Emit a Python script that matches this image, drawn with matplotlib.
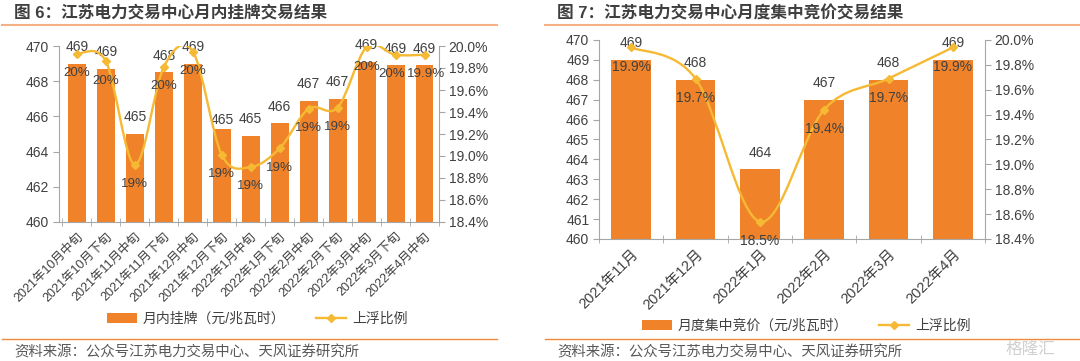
import matplotlib
matplotlib.use('Agg')
import matplotlib.pyplot as plt
from matplotlib.path import Path
from matplotlib.patches import PathPatch, Patch
from matplotlib.lines import Line2D
import matplotlib.ticker as mticker

plt.rcParams['font.family'] = ['Liberation Sans', 'Noto Sans CJK SC', 'DejaVu Sans']

# fig 6 data
cats6 = ['2021年10月中旬', '2021年10月下旬', '2021年11月中旬', '2021年11月下旬', '2021年12月中旬',
         '2021年12月下旬', '2022年1月中旬', '2022年1月下旬', '2022年2月中旬', '2022年2月下旬',
         '2022年3月中旬', '2022年3月下旬', '2022年4月中旬']
price6 = [469.0, 468.7, 465.0, 468.5, 469.0, 465.3, 464.9, 465.6, 466.9, 467.0, 469.1, 468.9, 468.9]
price6_lbl = ['469', '469', '465', '468', '469', '465', '465', '466', '467', '467', '469', '469', '469']
ratio6 = [19.93, 19.86, 18.92, 19.81, 19.95, 19.01, 18.90, 19.07, 19.43, 19.44, 19.99, 19.92, 19.92]
ratio6_lbl = ['20%', '20%', '19%', '20%', '20%', '19%', '19%', '19%', '19%', '19%', '20%', '20%', '19.9%']

# fig 7 data
cats7 = ['2021年11月', '2021年12月', '2022年1月', '2022年2月', '2022年3月', '2022年4月']
price7 = [469.0, 468.0, 463.5, 467.0, 468.0, 469.0]
price7_lbl = ['469', '468', '464', '467', '468', '469']
ratio7 = [19.94, 19.69, 18.54, 19.44, 19.69, 19.94]
ratio7_lbl = ['19.9%', '19.7%', '18.5%', '19.4%', '19.7%', '19.9%']

BAR = '#F0832A'
LINE = '#F5B933'
SPINE = '#A6A6A6'
TXT = '#404040'


def smooth_path(xs, ys):
    pts = list(zip(xs, ys))
    verts = [pts[0]]
    codes = [Path.MOVETO]
    n = len(pts)
    for i in range(n - 1):
        p0 = pts[i - 1] if i > 0 else pts[i]
        p1 = pts[i]
        p2 = pts[i + 1]
        p3 = pts[i + 2] if i + 2 < n else pts[i + 1]
        c1 = (p1[0] + (p2[0] - p0[0]) / 6, p1[1] + (p2[1] - p0[1]) / 6)
        c2 = (p2[0] - (p3[0] - p1[0]) / 6, p2[1] - (p3[1] - p1[1]) / 6)
        verts += [c1, c2, p2]
        codes += [Path.CURVE4] * 3
    return Path(verts, codes)


def draw_panel(fig, rect, cats, price, plbl, ratio, rlbl, ylim, ystep, xlim, rot_fs, legend_name,
               legend_xy, lbl_off, pct_dx, pct_fs):
    ax = fig.add_axes(rect)
    x = list(range(len(cats)))
    ax.bar(x, price, width=0.62, color=BAR, zorder=2)
    ax.set_ylim(*ylim)
    ax.set_xlim(*xlim)
    ax.yaxis.set_major_locator(mticker.MultipleLocator(ystep))
    ax.set_xticks(x)
    ax.set_xticklabels(cats, rotation=45, ha='right', rotation_mode='anchor', fontsize=rot_fs, color=TXT)
    ax.set_xticks([i - 0.5 for i in range(len(cats) + 1)], minor=True)
    ax.tick_params(axis='x', which='major', length=0, pad=6)
    ax.tick_params(axis='x', which='minor', length=6, direction='inout', color=SPINE)
    ax.tick_params(axis='y', length=4, color=SPINE, labelsize=10, labelcolor=TXT, pad=3)
    for s in ['top', 'right']:
        ax.spines[s].set_visible(False)
    for s in ['left', 'bottom']:
        ax.spines[s].set_color(SPINE)

    ax2 = ax.twinx()
    ax2.set_ylim(18.4, 20.0)
    ax2.yaxis.set_major_locator(mticker.MultipleLocator(0.2))
    ax2.yaxis.set_major_formatter(mticker.FuncFormatter(lambda v, p: f'{v:.1f}%'))
    ax2.tick_params(axis='y', length=4, color=SPINE, labelsize=10, labelcolor=TXT, pad=3)
    for s in ['top', 'left', 'bottom']:
        ax2.spines[s].set_visible(False)
    ax2.spines['right'].set_color(SPINE)
    ax2.add_patch(PathPatch(smooth_path(x, ratio), facecolor='none', edgecolor=LINE, lw=1.7, zorder=3))
    ax2.plot(x, ratio, ls='none', marker='D', ms=4.5, color=LINE, zorder=4)

    for i in x:
        ax.annotate(plbl[i], (i, price[i]), xytext=(0, lbl_off[i]), textcoords='offset points',
                    ha='center', va='center', fontsize=10, color=TXT, zorder=5)
        ax2.annotate(rlbl[i], (i, ratio[i]), xytext=(pct_dx[i], -14), textcoords='offset points',
                     ha='center', va='center', fontsize=pct_fs, color=TXT, zorder=5)

    handles = [Patch(facecolor=BAR, edgecolor='none'),
               Line2D([], [], color=LINE, lw=1.7, marker='D', ms=4.5)]
    ax.legend(handles, [legend_name, '上浮比例'], loc='center', ncol=2, frameon=False,
              bbox_to_anchor=legend_xy, bbox_transform=fig.transFigure, fontsize=10,
              handlelength=2.2, handleheight=0.8, columnspacing=2.2, handletextpad=0.4,
              labelcolor=TXT)
    return ax, ax2


fig = plt.figure(figsize=(10.8, 3.61), dpi=100)

off6 = [12] * 13
off6[5] = 6
dx6 = [0] * 13
dx6[11] = -2.5
dx6[12] = 1
draw_panel(fig, [59 / 1080, 1 - 222 / 361, 380 / 1080, 176 / 361], cats6, price6, price6_lbl,
           ratio6, ratio6_lbl, (460, 470), 2, (-0.62, 12.5), 9, '月内挂牌（元/兆瓦时）',
           (257 / 1080, 1 - 319 / 361), off6, dx6, 9.6)

draw_panel(fig, [599 / 1080, 1 - 239 / 361, 386 / 1080, 199 / 361], cats7, price7, price7_lbl,
           ratio7, ratio7_lbl, (460, 470), 1, (-0.5, 5.5), 10.5, '月度集中竞价（元/兆瓦时）',
           (806 / 1080, 1 - 326 / 361), [12] * 6, [0] * 6, 10)

# titles, rules and source notes
fig.text(14 / 1080, 1 - 13 / 361, '图 6：江苏电力交易中心月内挂牌交易结果', fontsize=12,
         fontweight='bold', color='#3F3F3F', va='center')
fig.text(557 / 1080, 1 - 13 / 361, '图 7：江苏电力交易中心月度集中竞价交易结果', fontsize=12,
         fontweight='bold', color='#3F3F3F', va='center')
for x0, x1 in [(2, 497), (545, 1080)]:
    fig.add_artist(Line2D([x0 / 1080, x1 / 1080], [1 - 25 / 361] * 2, color='#F4B183', lw=1.5))
    fig.add_artist(Line2D([x0 / 1080, x1 / 1080], [1 - 339 / 361] * 2, color='#F08A3A', lw=1.0))
fig.text(14 / 1080, 1 - 352 / 361, '资料来源：公众号江苏电力交易中心、天风证券研究所', fontsize=10.4,
         color='#595959', va='center')
fig.text(557 / 1080, 1 - 352 / 361, '资料来源：公众号江苏电力交易中心、天风证券研究所', fontsize=10.4,
         color='#595959', va='center')
fig.text(1030 / 1080, 1 - 349 / 361, '格隆汇', fontsize=12, color='#D0D0D0', va='center', ha='center')

fig.savefig('out.png', dpi=100)
